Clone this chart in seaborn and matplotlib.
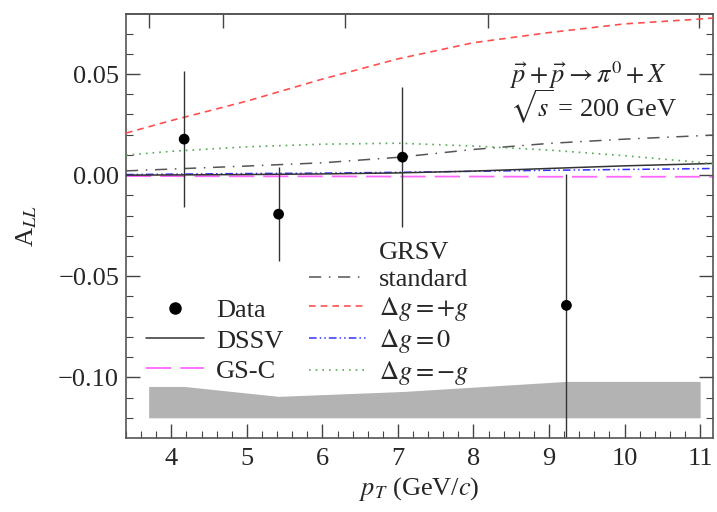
import numpy as np
import pandas as pd
import matplotlib
matplotlib.use("Agg")
import matplotlib.pyplot as plt
from matplotlib.lines import Line2D
import seaborn as sns

# data points (PHENIX-like)
pt_data = [4.17, 5.42, 7.06, 9.23]
all_data = [0.0178, -0.0193, 0.0089, -0.0644]
err_data = [0.0337, 0.0233, 0.0345, 0.065]

# systematic band
band_x = [3.7, 4.17, 5.42, 7.06, 9.23, 11.0]
band_top = [-0.1045, -0.1045, -0.1094, -0.107, -0.102, -0.102]
band_bottom = [-0.120, -0.120, -0.120, -0.120, -0.120, -0.120]
bin_edges = [3.7, 4.68, 6.3, 8.19, 10.99]

# theory curves
pt = [3.4, 4.0, 5.0, 6.0, 7.0, 8.0, 9.0, 10.0, 11.0, 11.17]
grsv_std = [0.0021, 0.0030, 0.0045, 0.0061, 0.0088, 0.0127, 0.0157, 0.0178, 0.0195, 0.0198]
grsv_max = [0.0208, 0.0270, 0.0366, 0.0475, 0.0575, 0.0655, 0.0705, 0.0748, 0.0772, 0.0777]
grsv_zero = [0.0003, 0.0005, 0.0008, 0.0010, 0.0014, 0.0019, 0.0024, 0.0028, 0.0032, 0.0033]
grsv_min = [0.0099, 0.0118, 0.0140, 0.0153, 0.0158, 0.0144, 0.0124, 0.0096, 0.0063, 0.0056]
dssv = [0.0000, 0.0001, 0.0003, 0.0006, 0.0011, 0.0020, 0.0033, 0.0046, 0.0056, 0.0058]
gsc = [-0.0005, -0.0005, -0.0006, -0.0006, -0.0007, -0.0007, -0.0008, -0.0008, -0.0008, -0.0008]

sns.set_style("ticks")
plt.rcParams['font.family'] = ['Liberation Serif', 'DejaVu Serif']
plt.rcParams['mathtext.fontset'] = 'stix'

FS = 19

fig, ax = plt.subplots(figsize=(7.17, 5.12), dpi=100)
fig.subplots_adjust(left=0.1757, right=0.9944, top=0.9727, bottom=0.1445)

ax.fill_between(band_x, band_bottom, band_top, color='#b3b3b3', lw=0, zorder=1)

curves = pd.DataFrame({'pt': pt, 'std': grsv_std, 'max': grsv_max, 'zero': grsv_zero,
                       'min': grsv_min, 'dssv': dssv, 'gsc': gsc})

sns.lineplot(data=curves, x='pt', y='gsc', ax=ax, color='#ff66ff', lw=1.3, zorder=2)
ax.lines[-1].set_dashes([14, 5])
sns.lineplot(data=curves, x='pt', y='zero', ax=ax, color='#3333ff', lw=1.1, zorder=3)
ax.lines[-1].set_dashes([5, 2, 1, 2, 1, 2])
sns.lineplot(data=curves, x='pt', y='dssv', ax=ax, color='#333333', lw=1.1, zorder=3)
sns.lineplot(data=curves, x='pt', y='std', ax=ax, color='#555555', lw=1.1, zorder=3)
ax.lines[-1].set_dashes([8, 5, 1, 5])
sns.lineplot(data=curves, x='pt', y='max', ax=ax, color='#ff5050', lw=1.2, zorder=3)
ax.lines[-1].set_dashes([4, 3])
sns.lineplot(data=curves, x='pt', y='min', ax=ax, color='#55aa55', lw=1.2, zorder=3)
ax.lines[-1].set_dashes([1, 3])

ax.errorbar(pt_data, all_data, yerr=err_data, fmt='none', ecolor='#333333', elinewidth=1.0, zorder=4)
sns.scatterplot(x=pt_data, y=all_data, ax=ax, color='black', s=60, edgecolor='none', zorder=5)

ax.set_xlim(3.4, 11.17)
ax.set_ylim(-0.130, 0.0797)
ax.set_xticks([4, 5, 6, 7, 8, 9, 10, 11])
ax.set_xticks(np.arange(3.4, 11.2, 0.2), minor=True)
ax.set_yticks([-0.10, -0.05, 0.00, 0.05])
ax.set_yticklabels(['\u22120.10', '\u22120.05', '0.00', '0.05'])
ax.set_yticks(np.arange(-0.12, 0.08, 0.01), minor=True)
ax.tick_params(which='both', direction='in', labelsize=FS, color='#444444')
ax.tick_params(which='major', length=10, width=1.0)
ax.tick_params(which='minor', length=5, width=0.8)
ax.tick_params(axis='y', which='both', right=True, pad=5)
ax.tick_params(axis='x', which='both', top=False)
ax.tick_params(axis='x', pad=7)

top = ax.secondary_xaxis('top')
top.set_xticks(bin_edges)
top.set_xticklabels([])
top.tick_params(direction='in', length=10, width=1.0, color='#444444')
top.xaxis.set_minor_locator(matplotlib.ticker.NullLocator())

for sp in list(ax.spines.values()) + list(top.spines.values()):
    sp.set_color('#555555')
    sp.set_linewidth(1.2)

ax.set_xlabel(r'$p_T$ (GeV/$c$)', fontsize=FS, labelpad=4)
ax.set_ylabel(r'A$_{LL}$', fontsize=FS, labelpad=14)

ax.text(0.654, 0.856, r'$\vec{p}+\vec{p}\rightarrow\pi^0+X$', transform=ax.transAxes,
        fontsize=FS, va='center', ha='left')
ax.text(0.654, 0.781, r'$\sqrt{s}$ = 200 GeV', transform=ax.transAxes,
        fontsize=FS, va='center', ha='left')

h_left = [Line2D([], [], ls='none', marker='o', color='black', markersize=8),
          Line2D([], [], color='#333333', lw=1.1),
          Line2D([], [], color='#ff66ff', lw=1.3, dashes=[14, 5])]
leg1 = ax.legend(h_left, ['Data', 'DSSV', 'GS-C'], loc='upper left',
                 bbox_to_anchor=(0.012, 0.359), frameon=False, fontsize=FS,
                 handlelength=2.2, labelspacing=0.25, handletextpad=0.45, borderpad=0)
ax.add_artist(leg1)

h_right = [Line2D([], [], ls='none'),
           Line2D([], [], color='#555555', lw=1.1, dashes=[8, 5, 1, 5]),
           Line2D([], [], color='#ff5050', lw=1.2, dashes=[4, 3]),
           Line2D([], [], color='#3333ff', lw=1.1, dashes=[5, 2, 1, 2, 1, 2]),
           Line2D([], [], color='#55aa55', lw=1.2, dashes=[1, 3])]
ax.legend(h_right, ['GRSV', 'standard', r'$\Delta g = +g$', r'$\Delta g = 0$', r'$\Delta g = -g$'],
          loc='upper left', bbox_to_anchor=(0.290, 0.498), frameon=False, fontsize=FS,
          handlelength=2.2, labelspacing=0.15, handletextpad=0.45, borderpad=0)

fig.savefig('out.png', dpi=100)
